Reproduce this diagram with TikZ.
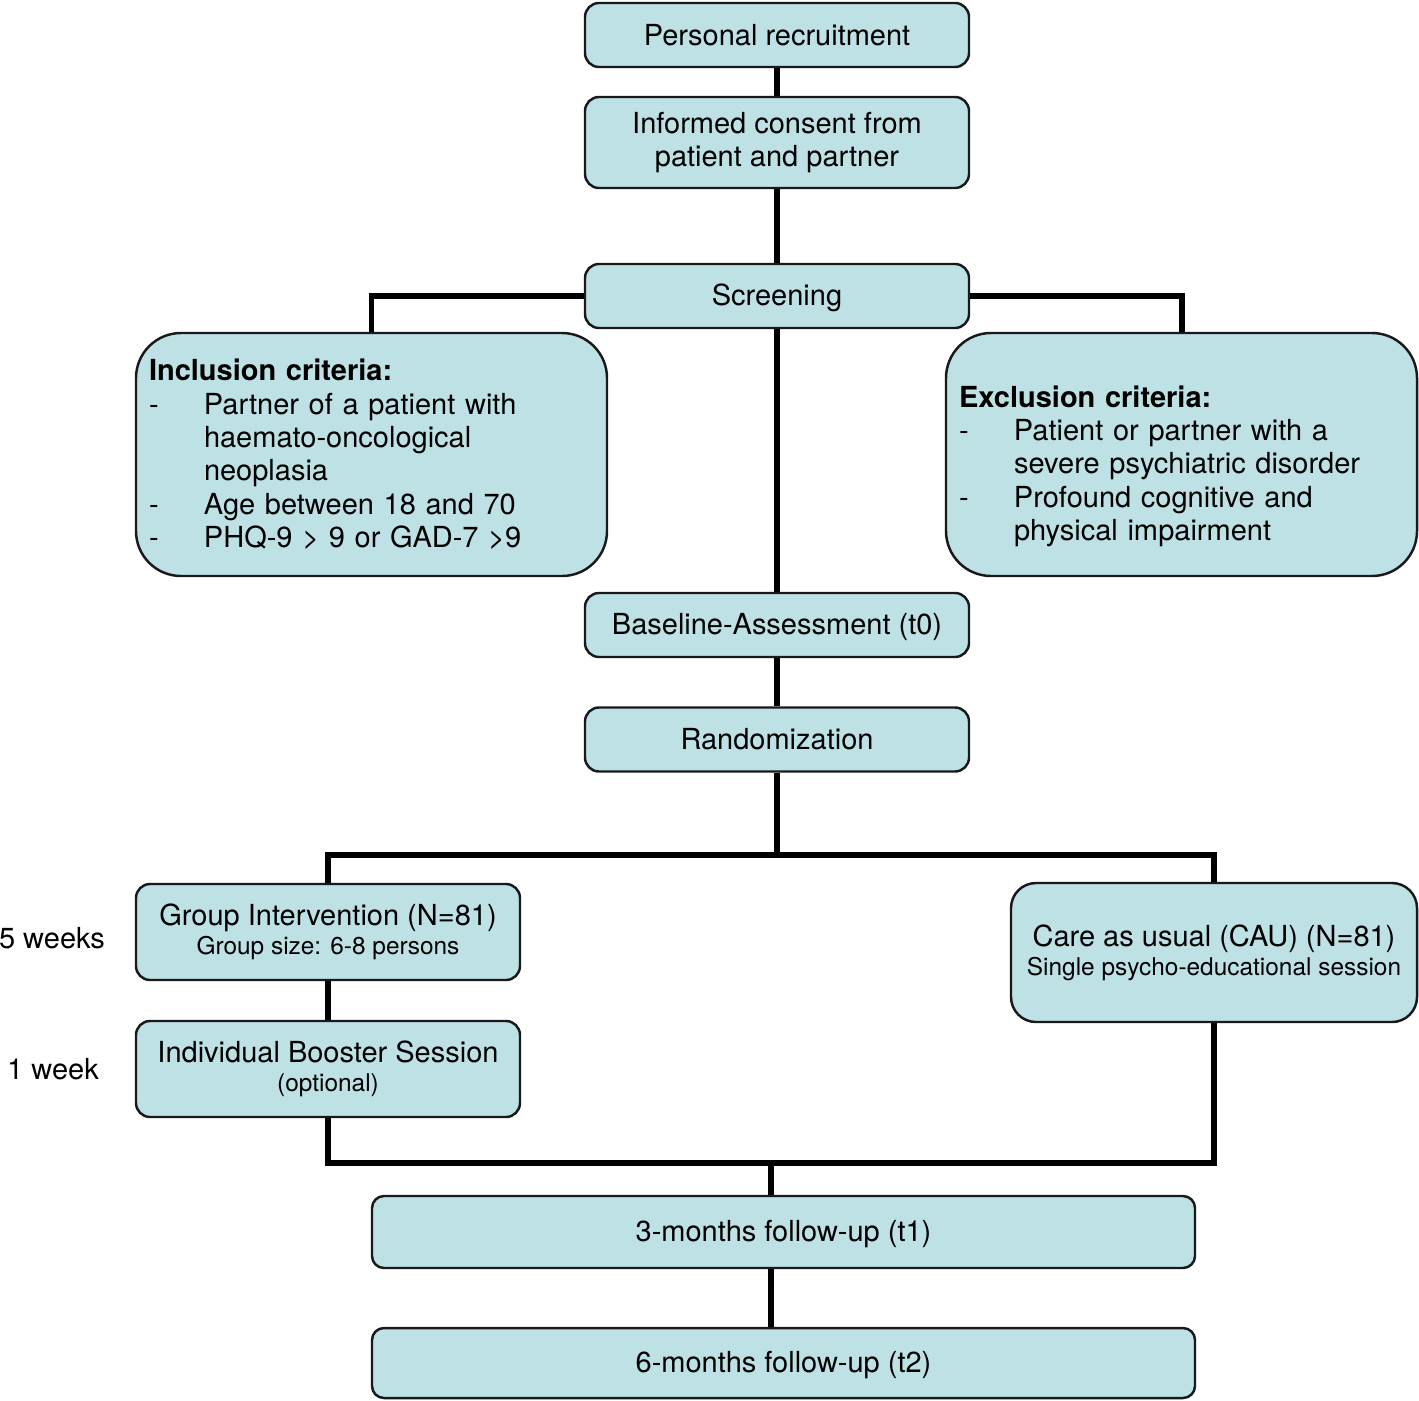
\documentclass[tikz,border=0pt]{standalone}
\usepackage{fontspec}
\setmainfont{TeX Gyre Heros}
\usepackage{xcolor}
\usepackage{tikz}
\usetikzlibrary{positioning}
\definecolor{boxfill}{RGB}{189,225,228}
\definecolor{boxline}{RGB}{25,25,25}
\newcommand{\subsz}{\fontsize{13.9}{16}\selectfont}
\newcommand{\critdash}{\makebox[1.1cm][l]{-}}
\newcommand{\critgap}{\hspace*{1.1cm}}
\tikzset{
    stage/.style = {rectangle, rounded corners=0.28cm, draw=boxline, line width=1.4pt, fill=boxfill, align=center, minimum width=7.68cm, minimum height=1.28cm, inner sep=0pt},
    armbox/.style = {stage, minimum height=1.92cm},
    followbox/.style = {stage, minimum width=16.46cm, minimum height=1.44cm, rounded corners=0.24cm},
    critbox/.style = {rectangle, rounded corners=0.9cm, draw=boxline, line width=1.4pt, fill=boxfill, align=left, text width=8.9cm, inner xsep=0.26cm, inner ysep=0pt, minimum height=4.86cm},
    weeklbl/.style = {inner sep=0pt, align=center},
}

\begin{document}
\begin{tikzpicture}[
	font=\fontsize{16.5}{19}\selectfont
]
\tikzset{
    conn/.style = {line width=3.4pt, draw=black}
}
\useasboundingbox (0,0) rectangle (28.38,-28);
\node[stage] at (15.54,-0.7) (recruit) {Personal recruitment};
\node[stage, minimum height=1.82cm] at (15.54,-2.85) (consent) {Informed consent from\\patient and partner};
\node[stage] at (15.54,-5.92) (screen) {\rule{0pt}{0.5cm}Screening};
\node[critbox] at (7.43,-9.09) (incl) {\textbf{Inclusion criteria:}\\
\critdash Partner of a patient with\\
\critgap haemato-oncological\\
\critgap neoplasia\\
\critdash Age between 18 and 70\\
\critdash PHQ-9 \textgreater{} 9 or GAD-7 \textgreater9};
\node[critbox] at (23.63,-9.09) (excl) {\rule{0pt}{0.9cm}\textbf{Exclusion criteria:}\\
\critdash Patient or partner with a\\
\critgap severe psychiatric disorder\\
\critdash Profound cognitive and\\
\critgap physical impairment};
\node[stage] at (15.54,-12.5) (base) {\rule{0pt}{0.5cm}Baseline-Assessment (t0)};
\node[stage] at (15.54,-14.79) (rand) {Randomization};
%
\node[armbox] at (6.56,-18.64) (group) {Group Intervention (N=81)\\[-2.5pt]{\subsz Group size: 6-8 persons}};
\node[armbox] at (6.56,-21.38) (boost) {Individual Booster Session\\[-2.5pt]{\subsz (optional)}};
\node[armbox, minimum width=8.12cm, minimum height=2.78cm, rounded corners=0.5cm] at (24.28,-19.05) (cau) {Care as usual (CAU) (N=81)\\[-2.5pt]{\subsz Single psycho-educational session}};
\node[weeklbl] at (1.04,-18.76) (w5) {5 weeks};
\node[weeklbl] at (1.06,-21.38) (w1) {1 week};
%
\node[followbox] at (15.67,-24.64) (fu3) {\rule{0pt}{0.5cm}3-months follow-up (t1)};
\node[followbox, minimum height=1.4cm] at (15.67,-27.26) (fu6) {\rule{0pt}{0.5cm}6-months follow-up (t2)};
%
\coordinate (split) at (15.54,-17.1);
\coordinate (merge) at (15.42,-23.26);
%
\draw[conn] (recruit) -- (consent);
\draw[conn] (consent) -- (screen);
\draw[conn] (screen) -- (base);
\draw[conn] (base) -- (rand);
\draw[conn] (screen.west) -| (incl.north);
\draw[conn] (screen.east) -| (excl.north);
%
\draw[conn] (rand) -- (split);
\draw[conn] (group.north) |- (split) -| (cau.north);
\draw[conn] (group) -- (boost);
%
\draw[conn] (boost.south) |- (merge) -| (cau.south);
\draw[conn] (merge) -- (merge |- fu3.north);
\draw[conn] (merge |- fu3.south) -- (merge |- fu6.north);
\end{tikzpicture}
\end{document}
